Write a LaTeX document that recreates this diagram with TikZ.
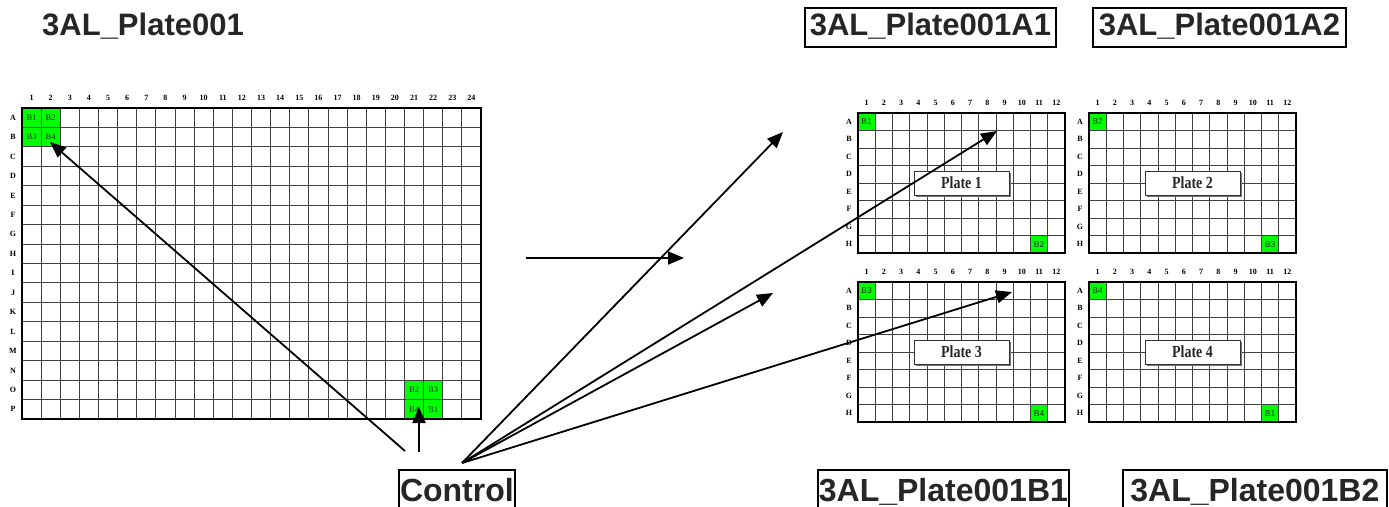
\documentclass[tikz,border=0pt]{standalone}
\usepackage{fontspec}
\setmainfont{Liberation Serif}
\newfontfamily\lblfont{Liberation Sans}
\newfontfamily\platefont[FakeStretch=0.82]{Liberation Serif}
\newfontfamily\wellfont{Liberation Sans}
\usetikzlibrary{arrows.meta,shadows}
\definecolor{wellgreen}{RGB}{0,255,0}
\definecolor{lbltext}{RGB}{38,38,38}

\tikzset{
  titletext/.style={font=\lblfont\bfseries\fontsize{31}{31}\selectfont, text=lbltext,
    inner sep=0pt, anchor=base west},
  titlebox/.style={draw=black, line width=1.8pt, font=\lblfont\bfseries\fontsize{31}{31}\selectfont,
    text=lbltext, inner xsep=1pt, inner ysep=2pt, text height=26pt, text depth=9pt, anchor=north west},
  footbox/.style={titlebox, font=\lblfont\bfseries\fontsize{32}{32}\selectfont,
    inner ysep=4pt, text height=28pt, text depth=10pt},
  collab/.style={font=\bfseries\fontsize{8}{8}\selectfont, inner sep=0pt},
  rowlab/.style={font=\bfseries\fontsize{8}{8}\selectfont, inner sep=0pt},
  bigwell/.style={font=\fontsize{8.5}{8.5}\selectfont, text=black!85, inner sep=0pt},
  smallwell/.style={font=\wellfont\fontsize{8.5}{8.5}\selectfont, text=black!85, inner sep=0pt},
  gridline/.style={draw=black!75, line width=0.9pt},
  plateborder/.style={draw=black, line width=2.4pt},
  platelabel/.style={draw=black!80, line width=0.8pt, fill=white,
    font=\platefont\bfseries\fontsize{17}{17}\selectfont, text=black!85,
    minimum width=95pt, minimum height=24pt, inner sep=0pt,
    drop shadow={shadow xshift=1.5pt, shadow yshift=-1.5pt, fill=black!55, opacity=1}},
  link/.style={draw=black, line width=1.8pt, -{Triangle[length=16pt,width=13pt]}},
}

% #1 x0, #2 y0, #3 columns, #4 rows, #5 cell width, #6 cell height, #7 row letters, #8 name prefix
\newcommand{\drawplate}[8]{%
  \foreach \c in {1,...,#3}
    \draw[gridline] ({#1+\c*#5},#2) -- ++(0,{#4*#6});
  \foreach \r in {1,...,#4}
    \draw[gridline] (#1,{#2+\r*#6}) -- ++({#3*#5},0);
  \draw[plateborder] (#1,#2) rectangle ({#1+#3*#5},{#2+#4*#6});
  \foreach \c in {1,...,#3}
    \node[collab] (#8-col\c) at ({#1+(\c-0.5)*#5},{#2-10}) {\c};
  \foreach \r [count=\i] in {#7}
    \node[rowlab] (#8-row\r) at ({#1-9},{#2+(\i-0.5)*#6}) {\r};
}

\begin{document}
\begin{tikzpicture}[x=1pt,y=-1pt]
\useasboundingbox (0,0) rectangle (1389,506);
\fill[white] (0,0) rectangle (1389,506);

% ---- 384-well source plate ----
\def\bx{22}\def\by{108}\def\bw{19.125}\def\bh{19.4375}
\fill[wellgreen] (\bx,\by) rectangle ({\bx+2*\bw},{\by+2*\bh});
\fill[wellgreen] ({\bx+20*\bw},{\by+14*\bh}) rectangle ({\bx+22*\bw},{\by+16*\bh});
\drawplate{\bx}{\by}{24}{16}{\bw}{\bh}{A,B,C,D,E,F,G,H,I,J,K,L,M,N,O,P}{src}
\node[bigwell] (sA1) at ({\bx+0.5*\bw},{\by+0.5*\bh}) {B1};
\node[bigwell] (sA2) at ({\bx+1.5*\bw},{\by+0.5*\bh}) {B2};
\node[bigwell] (sB1) at ({\bx+0.5*\bw},{\by+1.5*\bh}) {B3};
\node[bigwell] (sB2) at ({\bx+1.5*\bw},{\by+1.5*\bh}) {B4};
\node[bigwell] (sO21) at ({\bx+20.5*\bw},{\by+14.5*\bh}) {B2};
\node[bigwell] (sO22) at ({\bx+21.5*\bw},{\by+14.5*\bh}) {B3};
\node[bigwell] (sP21) at ({\bx+20.5*\bw},{\by+15.5*\bh}) {B4};
\node[bigwell] (sP22) at ({\bx+21.5*\bw},{\by+15.5*\bh}) {B1};

% ---- four 96-well daughter plates ----
\def\sw{17.25}\def\sh{17.5}
\foreach \px/\py/\pn/\ta/\tb in {858/113/1/B1/B2, 1089/113/2/B2/B3, 858/282/3/B3/B4, 1089/282/4/B4/B1}{
  \fill[wellgreen] (\px,\py) rectangle ({\px+\sw},{\py+\sh});
  \fill[wellgreen] ({\px+10*\sw},{\py+7*\sh}) rectangle ({\px+11*\sw},{\py+8*\sh});
  \drawplate{\px}{\py}{12}{8}{\sw}{\sh}{A,B,C,D,E,F,G,H}{p\pn}
  \node[smallwell] (p\pn-A1) at ({\px+0.5*\sw},{\py+0.5*\sh}) {\ta};
  \node[smallwell] (p\pn-H11) at ({\px+10.5*\sw},{\py+7.5*\sh}) {\tb};
  \node[platelabel] (p\pn-name) at ({\px+6*\sw},{\py+4*\sh}) {Plate \pn};
}

% ---- titles ----
\node[titletext] (srcname) at (42,35) {3AL\_Plate001};
\node[titlebox, minimum width=251pt] (nameA1) at (804,7) {3AL\_Plate001A1};
\node[titlebox, minimum width=253pt] (nameA2) at (1092,7) {3AL\_Plate001A2};
\node[footbox, minimum width=116pt] (ctrl) at (398,469) {Control};
\node[footbox, minimum width=251pt] (nameB1) at (817,469) {3AL\_Plate001B1};
\node[footbox, minimum width=264pt] (nameB2) at (1122,469) {3AL\_Plate001B2};

% ---- transfer arrows ----
\coordinate (s1) at (405,451);
\coordinate (s2) at (419,452);
\coordinate (fan) at (462,463);
\coordinate (t1) at (50,142);
\coordinate (t2) at (419,407);
\coordinate (h1) at (526,258);
\coordinate (h2) at (684,258);
\coordinate (ta) at (783,132);
\coordinate (tb) at (997,131);
\coordinate (tc) at (773,293);
\coordinate (td) at (1012,292);

\draw[link] (s1) -- (t1);
\draw[link] (s2) -- (t2);
\draw[link] (h1) -- (h2);
\draw[link] (fan) -- (ta);
\draw[link] (fan) -- (tb);
\draw[link] (fan) -- (tc);
\draw[link] (fan) -- (td);
\end{tikzpicture}
\end{document}
